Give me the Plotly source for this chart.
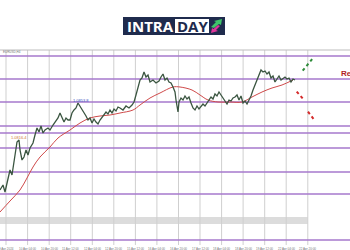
import plotly.graph_objects as go

# ---- data ----
bar_x = [0,3,5,8,10,12,14,16,17,19,20,22,24,26,28,30,33,35,37,39,41,43,45,48,50,53,56,58,60,62,64,66,68,70,72,74,76,78,80,82,84,86,88,90,92,94,96,98,100,102,104,106,108,110,112,114,116,118,120,123,126,129,132,134,136,138,140,142,144,146,148,150,153,156,159,161,163,165,167,169,171,173,175,176,177,178,179,181,183,185,187,189,191,193,195,197,199,201,203,205,207,209,211,213,215,217,219,221,223,225,227,229,231,233,235,237,239,241,243,245,247,249,251,253,255,257,259,261,263,265,267,269,271,273,275,277,279,281,283,285,287,289,291,293,295]
price = [1.0766,1.0771,1.0764,1.0776,1.0786,1.0781,1.0796,1.0806,1.0814,1.0816,1.0806,1.0796,1.0799,1.0806,1.0801,1.0808,1.0813,1.0821,1.0828,1.0824,1.0830,1.0823,1.0826,1.0828,1.0826,1.0831,1.0836,1.0838,1.0843,1.0839,1.0834,1.0838,1.0836,1.0836,1.0843,1.0846,1.0848,1.0853,1.0850,1.0846,1.0844,1.0840,1.0836,1.0838,1.0833,1.0837,1.0834,1.0832,1.0836,1.0839,1.0841,1.0844,1.0842,1.0846,1.0843,1.0847,1.0845,1.0849,1.0848,1.0846,1.0850,1.0848,1.0851,1.0854,1.0861,1.0868,1.0876,1.0878,1.0884,1.0879,1.0881,1.0874,1.0876,1.0873,1.0875,1.0879,1.0882,1.0876,1.0878,1.0874,1.0873,1.0869,1.0864,1.0856,1.0851,1.0844,1.0854,1.0858,1.0856,1.0860,1.0857,1.0859,1.0853,1.0848,1.0846,1.0850,1.0847,1.0849,1.0852,1.0850,1.0853,1.0856,1.0859,1.0857,1.0862,1.0860,1.0864,1.0861,1.0858,1.0855,1.0852,1.0856,1.0855,1.0858,1.0859,1.0861,1.0856,1.0860,1.0853,1.0855,1.0852,1.0856,1.0860,1.0866,1.0871,1.0878,1.0883,1.0886,1.0884,1.0885,1.0882,1.0884,1.0878,1.0880,1.0874,1.0877,1.0880,1.0876,1.0878,1.0879,1.0877,1.0878,1.0874,1.0877,1.0876]

ma_x = [0,10,20,27,33,40,50,58,70,80,90,100,110,120,133,140,150,160,173,180,192,200,208,218,230,242,252,262,272,282,293]
ma = [1.0744,1.0755,1.0766,1.0778,1.0789,1.0799,1.0809,1.0818,1.0826,1.0833,1.0838,1.0840,1.0841,1.0843,1.0846,1.0851,1.0858,1.0863,1.0869,1.0869,1.0866,1.0861,1.0856,1.0854,1.0854,1.0854,1.0859,1.0864,1.0868,1.0871,1.0876]

levels = [1.0900, 1.0877, 1.0854, 1.0830, 1.0823, 1.0808, 1.0784, 1.0762, 1.0716]
band = [1.0732, 1.0739]

grid_x = [6.0,27.6,49.2,70.7,92.3,113.8,135.4,156.9,178.5,200.0,221.6,243.1,264.7,286.2,307.8]
tick_labels = ["9 Apr 2024","10 Apr 04:00","10 Apr 20:00","11 Apr 12:00","12 Apr 04:00","12 Apr 20:00",
               "15 Apr 12:00","16 Apr 04:00","16 Apr 20:00","17 Apr 12:00","18 Apr 04:00","18 Apr 20:00",
               "19 Apr 12:00","22 Apr 04:00","22 Apr 20:00"]

# arrows: (x0, y0, x1, y1, colour)
arrows = [(302.7, 1.08853, 313.0, 1.0898, "#2e8b3a"),
          (296.7, 1.08643, 304.0, 1.0856, "#d42a2a"),
          (308.0, 1.08443, 314.3, 1.0836, "#d42a2a")]

Y0, Y1 = 1.0706, 1.0956
TOP, BOTTOM = 1.0906, 1.0711

fig = go.Figure()

shapes = []
shapes.append(dict(type="rect", x0=0, x1=307.8, y0=band[0], y1=band[1],
                   fillcolor="#dcdcdc", line_width=0, layer="below"))
for gx in grid_x:
    shapes.append(dict(type="line", x0=gx, x1=gx, y0=BOTTOM, y1=TOP,
                       line=dict(color="#cfcfcf", width=1), layer="below"))
shapes.append(dict(type="line", x0=0, x1=350, y0=TOP, y1=TOP,
                   line=dict(color="#bdbdbd", width=1), layer="below"))
for lv in levels:
    shapes.append(dict(type="line", x0=0, x1=350, y0=lv, y1=lv,
                       line=dict(color="#a678cc", width=1.3), layer="below"))
for x0, y0, x1, y1, c in arrows:
    shapes.append(dict(type="line", x0=x0, x1=x1, y0=y0, y1=y1,
                       line=dict(color=c, width=2, dash="dot")))

# logo (paper coords)
shapes.append(dict(type="rect", xref="paper", yref="paper", x0=123/350, x1=225/350,
                   y0=1-35/250, y1=1-17/250, fillcolor="#1f2b4d", line_width=0))
shapes.append(dict(type="rect", xref="paper", yref="paper", x0=175/350, x1=209/350,
                   y0=1-33/250, y1=1-19/250, fillcolor="#ffffff", line_width=0))
shapes.append(dict(type="path", xref="paper", yref="paper",
                   path=f"M {211/350},{1-27/250} L {216/350},{1-22/250} L {214/350},{1-21/250} L {222/350},{1-19/250} L {221/350},{1-25/250} L {219/350},{1-24/250} L {214/350},{1-28/250} Z",
                   fillcolor="#3fc46a", line_width=0))
shapes.append(dict(type="path", xref="paper", yref="paper",
                   path=f"M {220/350},{1-26/250} L {216/350},{1-30/250} L {218/350},{1-31/250} L {211/350},{1-33/250} L {212/350},{1-28/250} L {213.5/350},{1-29/250} L {218/350},{1-25/250} Z",
                   fillcolor="#e0359a", line_width=0))

fig.add_trace(go.Scatter(x=ma_x, y=ma, mode="lines", line=dict(color="#cf4a4a", width=1, shape="spline"),
                         hoverinfo="skip"))
fig.add_trace(go.Scatter(x=bar_x, y=price, mode="lines", line=dict(color="#3a5540", width=1.3),
                         hoverinfo="skip"))

ann = []
for gx, t in zip(grid_x, tick_labels):
    ann.append(dict(x=gx, y=1.07075, text=t, showarrow=False, xanchor="center", yanchor="middle",
                    font=dict(size=3, color="#777777", family="Liberation Sans")))
for x0, y0, x1, y1, c in arrows:
    ann.append(dict(x=x1, y=y1, ax=x1 - (x1 - x0) * 0.15, ay=y1 - (y1 - y0) * 0.15,
                    axref="x", ayref="y", showarrow=True, arrowhead=2, arrowsize=1.1,
                    arrowwidth=2, arrowcolor=c, text=""))
ann.append(dict(x=339, y=1.0883, text="<b>Resistance</b>", showarrow=False, xanchor="left", yanchor="middle",
                font=dict(size=8, color="#b01f24", family="Liberation Sans")))
ann.append(dict(x=19, y=1.0819, text="1.0816.4", showarrow=False, yanchor="middle",
                font=dict(size=4, color="#d07a3a", family="Liberation Sans")))
ann.append(dict(x=80.5, y=1.0856, text="1.0853.8", showarrow=False, yanchor="middle",
                font=dict(size=4, color="#3a55c0", family="Liberation Sans")))
ann.append(dict(x=0.5, y=1.0904, text="EURUSD,H4", showarrow=False, xanchor="left", yanchor="middle",
                font=dict(size=3, color="#777777", family="Liberation Sans")))
# logo text
ann.append(dict(xref="paper", yref="paper", x=150/350, y=1-26/250, text="<b>INTRA</b>", showarrow=False,
                xanchor="center", yanchor="middle",
                font=dict(size=15, color="#ffffff", family="Open Sans")))
ann.append(dict(xref="paper", yref="paper", x=192/350, y=1-26/250, text="<b>DAY</b>", showarrow=False,
                xanchor="center", yanchor="middle",
                font=dict(size=15, color="#1f2b4d", family="Open Sans")))

fig.update_layout(
    width=350, height=250, margin=dict(l=0, r=0, t=0, b=0),
    paper_bgcolor="white", plot_bgcolor="white", showlegend=False,
    shapes=shapes, annotations=ann,
    xaxis=dict(range=[0, 350], visible=False, fixedrange=True),
    yaxis=dict(range=[Y0, Y1], visible=False, fixedrange=True),
)
fig.write_html("out.html", config={"displayModeBar": False})
